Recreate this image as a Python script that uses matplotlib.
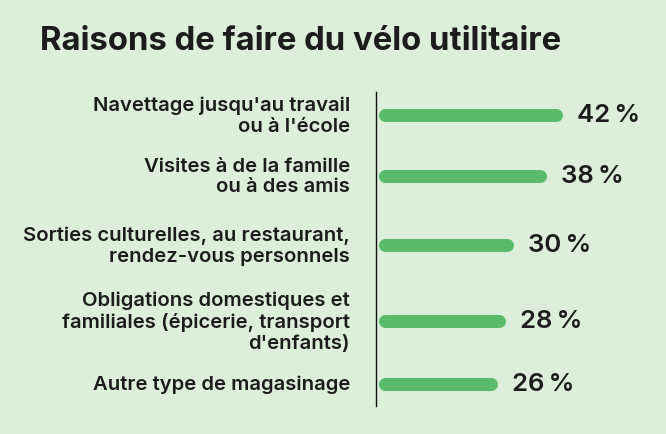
import matplotlib
matplotlib.use('Agg')
import matplotlib.pyplot as plt

# data
labels = [
    "Navettage jusqu'au travail\nou à l'école",
    "Visites à de la famille\nou à des amis",
    "Sorties culturelles, au restaurant,\nrendez-vous personnels",
    "Obligations domestiques et\nfamiliales (épicerie, transport\nd'enfants)",
    "Autre type de magasinage",
]
values = [42, 38, 30, 28, 26]

# layout (pixel rows of bar centres)
rows = [116, 177, 246, 322, 385]

bg = '#ddefda'
green = '#5bbb6c'
dark = '#1c1c1c'

plt.rcParams['font.family'] = ['Inter', 'DejaVu Sans']

W, H = 666, 435
fig = plt.figure(figsize=(W / 100, H / 100), dpi=100)
fig.patch.set_facecolor(bg)

ax = fig.add_axes([376 / W, (H - 407) / H, (W - 376) / W, (407 - 93) / H])
ax.set_facecolor(bg)
ax.set_ylim(407, 93)
ax.set_xlim(-2.3, 69)

for v, y, lab in zip(values, rows, labels):
    ax.plot([0, v], [y, y], color=green, lw=9.4, solid_capstyle='round')
    ax.annotate(f'{v}\u2009%', (v, y), xytext=(15, 0), textcoords='offset points',
                va='center', ha='left', fontsize=18.5, fontweight='semibold', color=dark)
    ax.text(-0.09, y, lab, transform=ax.get_yaxis_transform(), ha='right', va='center',
            fontsize=14.6, fontweight='semibold', color=dark, linespacing=1.2,
            multialignment='right')

for s in ['top', 'right', 'bottom']:
    ax.spines[s].set_visible(False)
ax.spines['left'].set_color('#111111')
ax.spines['left'].set_linewidth(1)
ax.set_xticks([])
ax.set_yticks([])

fig.text(40 / W, 1 - 50 / H, 'Raisons de faire du vélo utilitaire', fontsize=23.7,
         fontweight='bold', color=dark, ha='left', va='baseline')

fig.savefig('out.png', dpi=100, facecolor=bg)
